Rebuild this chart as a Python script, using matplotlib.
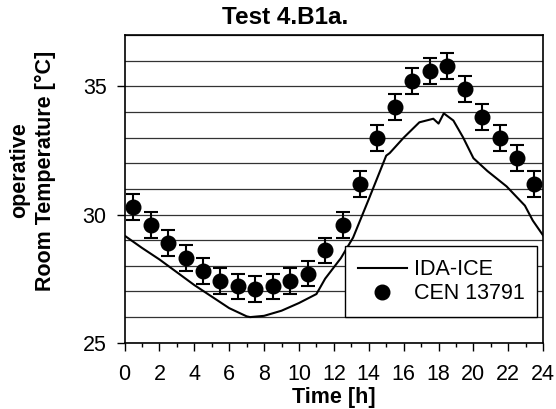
import numpy as np
import matplotlib.pyplot as plt
from matplotlib.ticker import MultipleLocator

plt.rcParams['font.family'] = ['Liberation Sans', 'DejaVu Sans']

# CEN 13791 reference values (hourly means) with error band
cen_hours = [0.5, 1.5, 2.5, 3.5, 4.5, 5.5, 6.5, 7.5, 8.5, 9.5, 10.5, 11.5,
             12.5, 13.5, 14.5, 15.5, 16.5, 17.5, 18.5, 19.5, 20.5, 21.5, 22.5, 23.5]
cen_temp = [30.3, 29.6, 28.9, 28.3, 27.8, 27.4, 27.2, 27.1, 27.2, 27.4, 27.7, 28.6,
            29.6, 31.2, 33.0, 34.2, 35.2, 35.6, 35.8, 34.9, 33.8, 33.0, 32.2, 31.2]
cen_err = 0.5

# IDA-ICE simulated curve
ida_hours = [0, 1, 2, 3, 4, 5, 6, 7, 7.2, 8, 9, 10, 11, 11.5, 12.4, 13.1, 14.0,
             15.0, 15.2, 16.0, 16.9, 17.7, 18.0, 18.3, 18.85, 19.4, 20.0, 20.8,
             21.9, 22.95, 23.4, 24]
ida_temp = [29.18, 28.7, 28.25, 27.75, 27.25, 26.8, 26.35, 26.03, 26.0, 26.05, 26.25,
            26.55, 26.9, 27.5, 28.3, 29.1, 30.6, 32.3, 32.4, 33.0, 33.6, 33.74, 33.55,
            33.95, 33.67, 33.02, 32.2, 31.7, 31.1, 30.35, 29.77, 29.18]

fig, ax = plt.subplots(figsize=(5.56, 4.09), dpi=100)
fig.subplots_adjust(left=0.224, right=0.977, top=0.914, bottom=0.162)

ida_line, = ax.plot(ida_hours, ida_temp, color='black', lw=1.5, zorder=3)
cen = ax.errorbar(cen_hours, cen_temp, yerr=cen_err, fmt='o', color='black', ms=10.5,
                  capsize=5, elinewidth=1.5, capthick=1.5, zorder=4)

ax.set_xlim(0, 24)
ax.set_ylim(25, 37)
ax.xaxis.set_major_locator(MultipleLocator(2))
ax.xaxis.set_minor_locator(MultipleLocator(1))
ax.yaxis.set_major_locator(MultipleLocator(5))
ax.yaxis.set_minor_locator(MultipleLocator(1))
ax.tick_params(axis='both', which='major', labelsize=15.5, direction='out', length=6, width=1)
ax.tick_params(axis='x', which='major', pad=9)
ax.tick_params(axis='y', which='major', pad=7)
ax.tick_params(axis='x', which='minor', direction='out', length=3, width=1)
ax.tick_params(axis='y', which='minor', length=0)
ax.grid(True, axis='y', which='both', color='#333333', lw=0.9)
for s in ax.spines.values():
    s.set_linewidth(1.2)

fig.text(0.513, 0.957, 'Test 4.B1a.', fontsize=17.5, fontweight='bold', ha='center', va='center')
ax.set_xlabel('Time [h]', fontsize=15.5, fontweight='bold', labelpad=2)
ax.set_ylabel('operative\nRoom Temperature [°C]', fontsize=15.5, fontweight='bold',
              labelpad=19, linespacing=1.3)
ax.yaxis.label.set_y(0.56)

leg = ax.legend([ida_line, cen[0]], ['IDA-ICE', 'CEN 13791'], loc='lower right',
                bbox_to_anchor=(0.986, 0.083), fontsize=15.5,
                frameon=True, fancybox=False, edgecolor='black', framealpha=1,
                handlelength=2.3, handletextpad=0.3, borderpad=0.6, labelspacing=0.15,
                borderaxespad=0)
leg.get_frame().set_linewidth(1)

plt.savefig('out.png', dpi=100)
